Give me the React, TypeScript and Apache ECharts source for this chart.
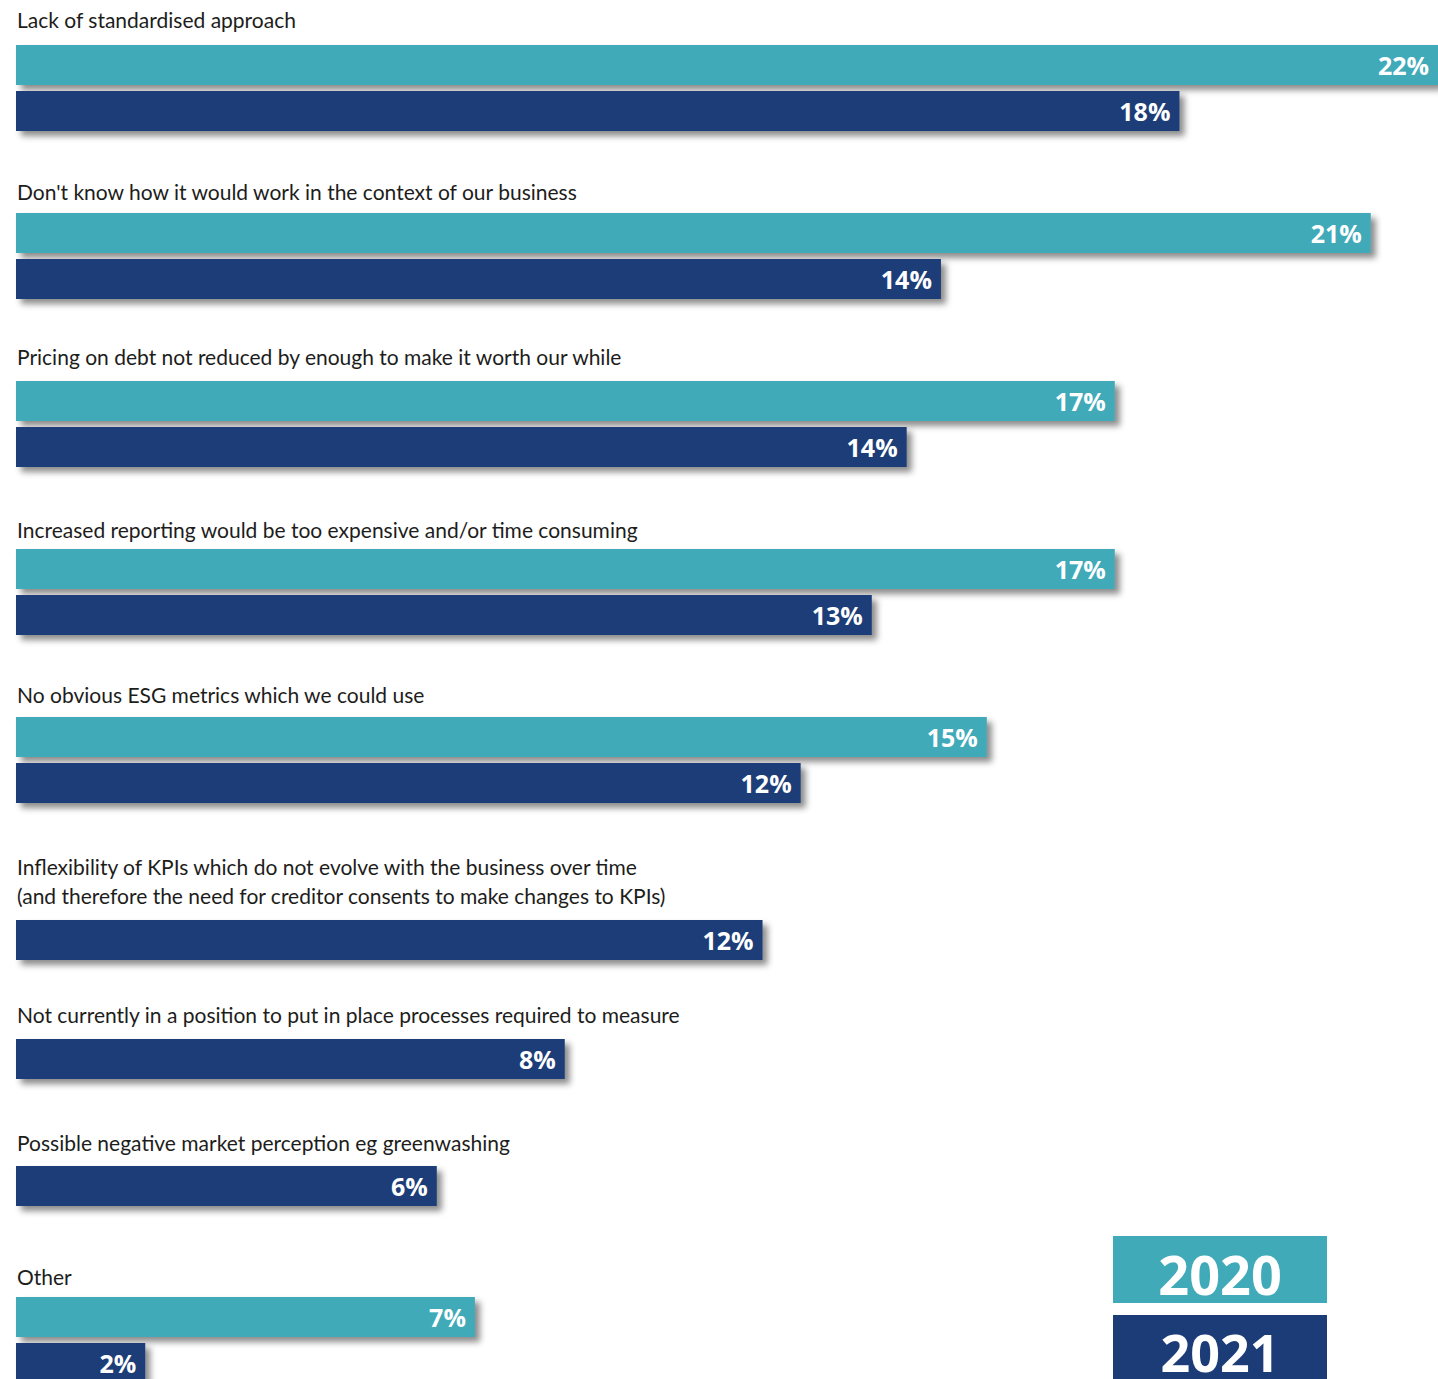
import React, { useEffect, useRef } from "react";
import * as echarts from "echarts";

const categories = [
  "Lack of standardised approach",
  "Don't know how it would work in the context of our business",
  "Pricing on debt not reduced by enough to make it worth our while",
  "Increased reporting would be too expensive and/or time consuming",
  "No obvious ESG metrics which we could use",
  "Inflexibility of KPIs which do not evolve with the business over time\n(and therefore the need for creditor consents to make changes to KPIs)",
  "Not currently in a position to put in place processes required to measure",
  "Possible negative market perception eg greenwashing",
  "Other",
];
const values2020: (number | null)[] = [22, 20.96, 17, 17, 15.02, null, null, null, 7.1];
const values2021: (number | null)[] = [18, 14.31, 13.78, 13.24, 12.14, 11.55, 8.49, 6.51, 2];
const labels2020 = ["22%", "21%", "17%", "17%", "15%", "", "", "", "7%"];
const labels2021 = ["18%", "14%", "14%", "13%", "12%", "12%", "8%", "6%", "2%"];
const legendNames = ["2020", "2021"];

const TEAL = "#41aab9";
const NAVY = "#1c3c77";
const barTops = [45, 213, 381, 549, 717, 920, 1039, 1166, 1297];
const labelYs = [19, 191, 356, 529, 694, 880.5, 1014, 1142, 1276];

export default function App() {
  const ref = useRef<HTMLDivElement>(null);
  useEffect(() => {
    if (!ref.current) return;
    const chart = echarts.init(ref.current, null, { renderer: "svg" });
    const grids: any[] = [];
    const xAxes: any[] = [];
    const yAxes: any[] = [];
    const series: any[] = [];
    const graphics: any[] = [];
    categories.forEach((cat, i) => {
      const items: any[] = [];
      const cats: string[] = [];
      const mk = (v: number, lab: string, color: string) => ({
        value: v,
        itemStyle: {
          color,
          shadowColor: "rgba(0,0,0,0.45)",
          shadowBlur: 6,
          shadowOffsetX: 5,
          shadowOffsetY: 5,
        },
        label: { formatter: lab },
      });
      if (values2020[i] != null) {
        cats.push(legendNames[0]);
        items.push(mk(values2020[i] as number, labels2020[i], TEAL));
      }
      if (values2021[i] != null) {
        cats.push(legendNames[1]);
        items.push(mk(values2021[i] as number, labels2021[i], NAVY));
      }
      grids.push({
        left: 16,
        width: 1422,
        top: barTops[i] - 3,
        height: cats.length * 46,
        outerBoundsMode: "none",
        containLabel: false,
      });
      xAxes.push({
        type: "value",
        gridIndex: i,
        min: 0,
        max: 22,
        show: false,
      });
      yAxes.push({
        type: "category",
        gridIndex: i,
        data: cats,
        inverse: true,
        show: false,
      });
      series.push({
        type: "bar",
        xAxisIndex: i,
        yAxisIndex: i,
        barWidth: 40,
        data: items,
        label: {
          show: true,
          position: "insideRight",
          distance: 9,
          color: "#ffffff",
          fontFamily: "Open Sans",
          fontWeight: "bold",
          fontSize: 25,
        },
      });
      graphics.push({
        type: "text",
        x: 17,
        y: labelYs[i],
        style: {
          text: cat,
          font: "21px Lato",
          fill: "#1d1d1b",
          verticalAlign: "middle",
          lineHeight: 29,
        },
      });
    });
    graphics.push(
      { type: "rect", shape: { x: 1113, y: 1236, width: 214, height: 67 }, style: { fill: TEAL } },
      { type: "rect", shape: { x: 1113, y: 1315, width: 214, height: 70 }, style: { fill: NAVY } },
      {
        type: "text",
        x: 1220,
        y: 1274,
        style: {
          text: legendNames[0],
          font: "bold 54px 'Open Sans'",
          fill: "#ffffff",
          align: "center",
          verticalAlign: "middle",
          lineHeight: 52,
        },
      },
      {
        type: "text",
        x: 1220,
        y: 1351,
        style: {
          text: legendNames[1],
          font: "bold 52px 'Open Sans'",
          fill: "#ffffff",
          align: "center",
          verticalAlign: "middle",
          lineHeight: 50,
        },
      }
    );
    chart.setOption({
      animation: false,
      backgroundColor: "#ffffff",
      grid: grids,
      xAxis: xAxes,
      yAxis: yAxes,
      series,
      graphic: graphics,
    });
    return () => chart.dispose();
  }, []);
  return (
    <div
      ref={ref}
      style={{ position: "absolute", left: 0, top: 0, width: 1438, height: 1379 }}
    />
  );
}
